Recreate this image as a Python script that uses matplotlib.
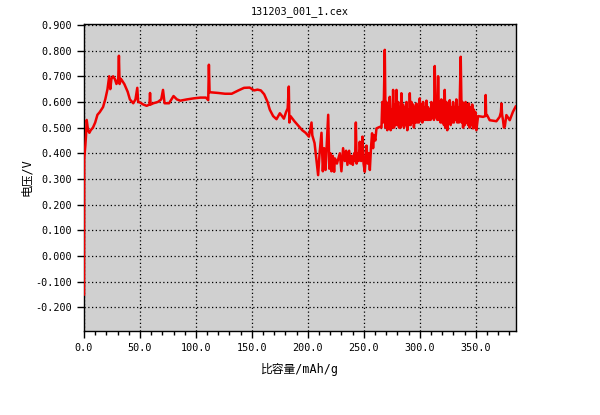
import numpy as np
import matplotlib
matplotlib.use("Agg")
import matplotlib.pyplot as plt
from matplotlib.ticker import MultipleLocator, FormatStrFormatter

# monospace for digits/latin, CJK font picks up the Chinese characters
plt.rcParams['font.family'] = ['DejaVu Sans Mono', 'Noto Sans CJK SC']

# --- data, in segments ---
# start of charge, sharp rise to ~0.7 V
cap_start = [0, 0.2, 0.6, 1.2, 1.8, 2.4, 3.0, 3.6, 4.8, 6, 8, 10, 12, 14, 17, 19, 21,
             22.5, 23.5, 24.5, 26, 27.5, 29, 30.6, 31.2, 31.8, 33, 36, 39, 41, 44, 46,
             47.6, 48.4]
volt_start = [-0.15, 0.38, 0.40, 0.43, 0.47, 0.53, 0.51, 0.49, 0.48, 0.49, 0.50, 0.52,
              0.55, 0.56, 0.58, 0.61, 0.65, 0.70, 0.65, 0.69, 0.70, 0.69, 0.67, 0.69,
              0.78, 0.67, 0.69, 0.67, 0.64, 0.61, 0.595, 0.61, 0.655, 0.60]

# plateau around 0.6 V
cap_plateau = [50, 53, 56, 58.5, 59, 59.5, 62, 66, 69, 70.6, 72, 76, 80, 83, 86, 92, 98,
               104, 109, 111, 111.6, 112.2, 120, 126, 132, 138, 143, 148, 152, 155, 158,
               161, 164, 166, 169, 172, 175, 177, 178.6, 180.5, 182, 183, 183.5]
volt_plateau = [0.598, 0.59, 0.585, 0.59, 0.635, 0.59, 0.595, 0.60, 0.61, 0.647, 0.595,
                0.595, 0.623, 0.61, 0.605, 0.61, 0.614, 0.617, 0.617, 0.607, 0.745, 0.638,
                0.635, 0.632, 0.632, 0.645, 0.655, 0.656, 0.645, 0.648, 0.645, 0.63, 0.60,
                0.57, 0.545, 0.533, 0.556, 0.545, 0.535, 0.56, 0.575, 0.66, 0.52]

# descent towards the noisy dip
cap_descent = [184.5, 188, 192, 195, 198, 201, 202.5, 203.3, 204, 206, 208]
volt_descent = [0.545, 0.525, 0.505, 0.49, 0.48, 0.465, 0.50, 0.52, 0.47, 0.44, 0.36]

# noisy dip around 0.37 V
cap_dip = [209.2, 210.5, 212.2, 213.4, 214.6, 215.8, 217, 218.2, 219.2, 220.2, 221.1,
           222.3, 223.5, 224.2, 226, 228.6, 230, 231.5, 233, 234.2, 235.4, 236.9, 238,
           239, 240.2, 241.4, 242.2, 242.9, 243.6, 244.4, 245.4, 246.4, 247.6, 248.8,
           249.8, 250.9, 252.4, 253.5, 254.5, 255.4, 256.4, 257.4, 258.3, 259.2, 260.3,
           261.3, 262.8, 264.3]
volt_dip = [0.315, 0.40, 0.48, 0.33, 0.42, 0.335, 0.44, 0.55, 0.34, 0.40, 0.33,
            0.39, 0.328, 0.38, 0.36, 0.40, 0.33, 0.42, 0.37, 0.41, 0.355, 0.41, 0.36,
            0.39, 0.355, 0.40, 0.37, 0.52, 0.36, 0.40, 0.37, 0.445, 0.37, 0.465,
            0.36, 0.328, 0.43, 0.36, 0.40, 0.335, 0.42, 0.478, 0.42, 0.47, 0.45,
            0.497, 0.50, 0.503]

# noisy band around 0.55 V
cap_noise = [265.8, 266.5, 267.2, 268.0, 268.75, 269.5, 270.2, 271.0, 271.7, 272.5, 273.2,
             274.0, 274.7, 275.5, 276.2, 277.0, 277.7, 278.5, 279.2, 280.0, 280.7, 281.5,
             282.2, 283.0, 283.6, 284.4, 285.1, 285.9, 286.6, 287.4, 288.1, 288.9, 289.6,
             290.4, 291.1, 291.9, 292.6, 293.4, 294.1, 294.8, 295.5, 296.3, 297.0, 297.8,
             298.5, 299.3, 300.0, 300.8, 301.5, 302.3, 303.0, 303.8, 304.5, 305.3, 306.0,
             306.7, 307.4, 308.2, 308.9, 309.7, 310.4, 311.2, 311.9, 312.7, 313.4, 314.2,
             314.9, 315.7, 316.4, 317.2, 317.9, 318.6, 319.3, 320.1, 320.8, 321.6, 322.3,
             323.0, 323.8, 324.6, 325.3, 326.0, 326.8, 327.6, 328.3, 329.0, 329.8, 330.5,
             331.2, 332.0, 332.7, 333.5, 334.2, 335.0, 335.7, 336.6, 337.5, 338.1, 338.7,
             339.5, 340.2, 341.0, 341.7, 342.5, 343.2, 343.9, 344.6, 345.4, 346.1, 346.9,
             347.6, 348.4, 349.1, 349.9, 350.6]
volt_noise = [0.50, 0.60, 0.52, 0.62, 0.803, 0.50, 0.60, 0.49, 0.58, 0.50, 0.62,
              0.49, 0.57, 0.50, 0.647, 0.50, 0.59, 0.51, 0.647, 0.51, 0.60, 0.50,
              0.58, 0.50, 0.634, 0.51, 0.59, 0.50, 0.58, 0.51, 0.60, 0.49, 0.57,
              0.51, 0.634, 0.51, 0.60, 0.52, 0.59, 0.50, 0.58, 0.52, 0.594, 0.52,
              0.58, 0.52, 0.614, 0.53, 0.59, 0.52, 0.60, 0.53, 0.58, 0.53, 0.605,
              0.53, 0.58, 0.53, 0.57, 0.53, 0.60, 0.54, 0.57, 0.53, 0.74, 0.54,
              0.60, 0.53, 0.70, 0.53, 0.60, 0.52, 0.61, 0.52, 0.59, 0.51, 0.647,
              0.50, 0.60, 0.49, 0.59, 0.52, 0.607, 0.51, 0.58, 0.52, 0.60, 0.52,
              0.58, 0.53, 0.61, 0.52, 0.58, 0.52, 0.60, 0.776, 0.52, 0.60, 0.50,
              0.58, 0.51, 0.60, 0.52, 0.59, 0.51, 0.594, 0.50, 0.58, 0.51, 0.59,
              0.497, 0.57, 0.50, 0.56, 0.49]

# quieter tail
cap_tail = [352.1, 356.5, 358.6, 358.9, 359.3, 360.1, 362.5, 368.5, 371.4, 372.5, 373.0,
            373.6, 374.4, 375.2, 376.0, 377.4, 380.4, 383.3, 385.7]
volt_tail = [0.545, 0.542, 0.545, 0.627, 0.55, 0.549, 0.529, 0.525, 0.542, 0.56, 0.594,
             0.55, 0.529, 0.50, 0.504, 0.549, 0.529, 0.562, 0.582]

cap = np.concatenate([cap_start, cap_plateau, cap_descent, cap_dip, cap_noise, cap_tail])
volt = np.concatenate([volt_start, volt_plateau, volt_descent, volt_dip, volt_noise, volt_tail])

fig = plt.figure(figsize=(6, 4.15), dpi=100)
ax = fig.add_axes([0.14, 0.2024, 0.72, 0.740])
ax.set_facecolor('#d0d0d0')

ax.plot(cap, volt, color='#f00000', linewidth=1.8, zorder=3)

ax.set_xlim(0, 386)
ax.set_ylim(-0.292, 0.904)

ax.xaxis.set_major_locator(MultipleLocator(50))
ax.xaxis.set_minor_locator(MultipleLocator(10))
ax.yaxis.set_major_locator(MultipleLocator(0.1))
ax.xaxis.set_major_formatter(FormatStrFormatter('%.1f'))
ax.yaxis.set_major_formatter(FormatStrFormatter('%.3f'))

ax.tick_params(axis='both', which='major', direction='out', length=5, width=1,
               labelsize=7.3, color='black')
ax.tick_params(axis='x', which='minor', direction='out', length=3, width=1)

ax.grid(True, which='major', color='black', linestyle=(0, (1, 2)), linewidth=0.9)
for s in ax.spines.values():
    s.set_color('black')
    s.set_linewidth(1)

ax.set_title('131203_001_1.cex', fontsize=7.3, pad=7)
ax.set_xlabel('比容量/mAh/g', fontsize=8.5)
ax.set_ylabel('电压/V', fontsize=8.5)
ax.xaxis.set_label_coords(0.5, -0.105)
ax.yaxis.set_label_coords(-0.118, 0.5)

fig.savefig('out.png', dpi=100)
